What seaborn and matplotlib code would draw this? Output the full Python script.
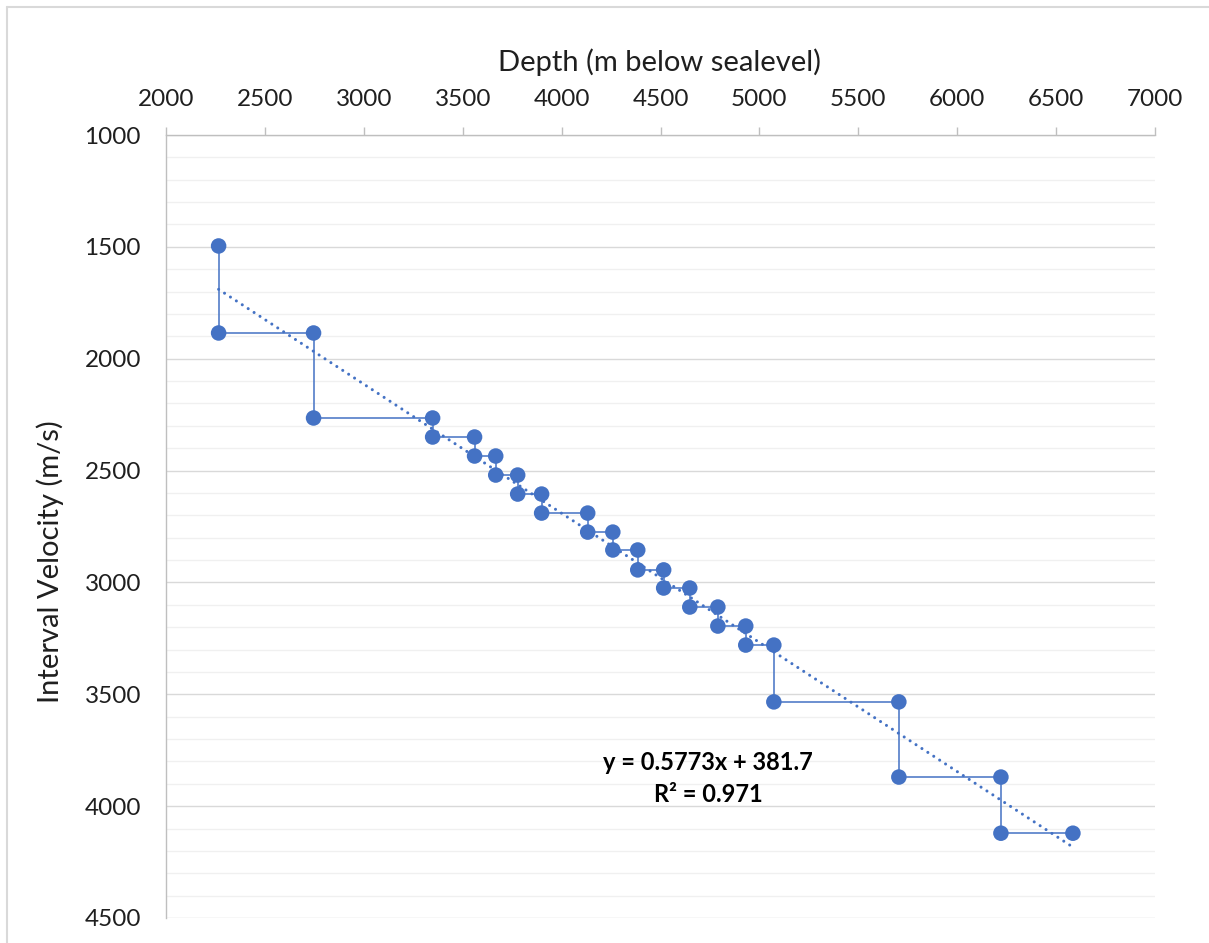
import numpy as np
import pandas as pd
import matplotlib
matplotlib.use("Agg")
import matplotlib.pyplot as plt
from matplotlib.ticker import MultipleLocator
from matplotlib.lines import Line2D
import seaborn as sns

# ---- data ----
depths = [2266, 2746, 3348, 3560, 3667, 3778, 3899, 4132, 4259, 4385,
          4516, 4648, 4790, 4931, 5073, 5705, 6221, 6585]
velocities = [1496, 1885, 2265, 2350, 2435, 2520, 2605, 2690, 2775, 2855,
              2944, 3025, 3110, 3195, 3280, 3534, 3870, 4121]
trend_slope = 0.5773
trend_intercept = 381.7
r_squared = 0.971
x_ticks = [2000, 2500, 3000, 3500, 4000, 4500, 5000, 5500, 6000, 6500, 7000]
y_ticks = [1000, 1500, 2000, 2500, 3000, 3500, 4000, 4500]
x_title = "Depth (m below sealevel)"
y_title = "Interval Velocity (m/s)"

# step-shaped series: each depth paired with the velocity above and below
step_x, step_y = [], []
for i, d in enumerate(depths):
    step_x.append(d)
    step_y.append(velocities[i])
    if i + 1 < len(velocities):
        step_x.append(d)
        step_y.append(velocities[i + 1])
df = pd.DataFrame({"depth": step_x, "velocity": step_y})

trend_x = np.array([depths[0], depths[-1]], dtype=float)
trend_df = pd.DataFrame({"depth": trend_x, "velocity": trend_slope * trend_x + trend_intercept})

# ---- style ----
sns.set_theme(style="white")
plt.rcParams["font.family"] = ["Lato", "DejaVu Sans"]

BLUE = "#4472C4"
AXIS_GRAY = "#BFBFBF"
TEXT = "#1f1f1f"

fig = plt.figure(figsize=(12.09, 9.43), dpi=100)
ax = fig.add_axes([166 / 1209, 1 - 918 / 943, (1155 - 166) / 1209, (918 - 135) / 943])

sns.lineplot(data=df, x="depth", y="velocity", sort=False, estimator=None,
             color=BLUE, linewidth=1.1, ax=ax, zorder=3)
sns.scatterplot(data=df, x="depth", y="velocity", color=BLUE, s=125,
                edgecolor="none", ax=ax, zorder=4)
sns.lineplot(data=trend_df, x="depth", y="velocity", sort=False, estimator=None,
             color=BLUE, linewidth=2.2, ax=ax, zorder=5,
             linestyle=(0, (0.01, 2.3)), dash_capstyle="round")

ax.set_xlim(2000, 7000)
ax.set_ylim(4500, 1000)
ax.set_xticks(x_ticks)
ax.set_yticks(y_ticks)
ax.yaxis.set_minor_locator(MultipleLocator(100))

ax.xaxis.tick_top()
ax.xaxis.set_label_position("top")
ax.tick_params(axis="x", which="major", direction="out", length=6, width=1.0,
               color=AXIS_GRAY, labelsize=17.5, labelcolor=TEXT, pad=12)
ax.tick_params(axis="y", which="major", direction="out", length=6, width=1.0,
               color=AXIS_GRAY, labelsize=17.5, labelcolor=TEXT, pad=12)
ax.tick_params(axis="y", which="minor", length=0)

ax.grid(False)
ax.yaxis.grid(True, which="major", color="#D9D9D9", linewidth=1.0, zorder=0)
ax.yaxis.grid(True, which="minor", color="#F0F0F0", linewidth=1.0, zorder=0)
ax.set_axisbelow(True)

for side in ["right", "bottom"]:
    ax.spines[side].set_visible(False)
for side in ["left", "top"]:
    ax.spines[side].set_color(AXIS_GRAY)
    ax.spines[side].set_linewidth(1.0)

ax.set_xlabel("")
ax.set_ylabel("")
fig.text(660 / 1209, 1 - 62 / 943, x_title, ha="center", va="center",
         fontsize=21, color=TEXT)
fig.text(50 / 1209, 1 - 562 / 943, y_title, ha="center", va="center",
         rotation=90, fontsize=21, color=TEXT)

fig.text(708 / 1209, 1 - 762 / 943, f"y = {trend_slope}x + {trend_intercept}",
         ha="center", va="center", fontsize=17, fontweight="bold", color="black")
fig.text(708 / 1209, 1 - 794 / 943, f"R² = {r_squared}",
         ha="center", va="center", fontsize=17, fontweight="bold", color="black")

# chart-area border (Excel style), top and left visible
fig.add_artist(Line2D([7 / 1209, 7 / 1209], [0, 1 - 7 / 943], transform=fig.transFigure,
                      color="#D9D9D9", linewidth=1.5))
fig.add_artist(Line2D([7 / 1209, 1], [1 - 7 / 943, 1 - 7 / 943], transform=fig.transFigure,
                      color="#D9D9D9", linewidth=1.5))

fig.savefig("out.png", dpi=100, facecolor="white")
